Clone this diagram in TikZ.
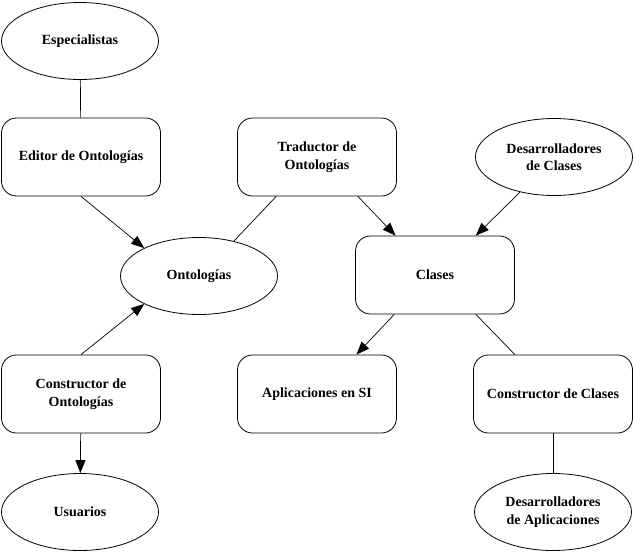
\documentclass[tikz,border=0pt]{standalone}
\usepackage{fontspec}
\setmainfont{Liberation Serif}
\usetikzlibrary{arrows.meta,positioning,shapes.geometric}

\begin{document}
\begin{tikzpicture}[x=1pt, y=-1pt,
    every node/.style={font=\bfseries\fontsize{14}{17.5}\selectfont, align=center},
    actor/.style={draw, ellipse, line width=0.8pt, minimum width=157pt, minimum height=77pt, inner sep=0pt},
    tool/.style={draw, rectangle, rounded corners=15pt, line width=0.8pt, minimum width=159pt, minimum height=78pt, inner sep=0pt},
    link/.style={line width=0.7pt},
    flow/.style={line width=0.7pt, -{Triangle[length=13pt, width=10pt]}}]
    \useasboundingbox (0,0) rectangle (633,552);
    % actors
    \node[actor] (espec) at (80,41) {Especialistas};
    \node[actor] (ontol) at (199,276) {Ontologías};
    \node[actor] (desclases) at (554,157) {Desarrolladores\\de Clases};
    \node[actor] (usuarios) at (80,512) {Usuarios};
    \node[actor] (desaplic) at (553,512) {Desarrolladores\\de Aplicaciones};
    % tools
    \node[tool] (editor) at (81,157) {Editor de Ontologías};
    \node[tool] (traductor) at (317,157) {Traductor de\\Ontologías};
    \node[tool] (clases) at (435,275) {Clases};
    \node[tool] (constont) at (81,394) {Constructor de\\Ontologías};
    \node[tool] (aplic) at (317,394) {Aplicaciones en SI};
    \node[tool] (constclases) at (553,394) {Constructor de Clases};
    % plain links
    \draw[link] (espec) -- (editor);
    \draw[link] (traductor.224) -- (ontol.45);
    \draw[link] (clases.-44) -- (constclases.134);
    \draw[link] (constclases) -- (desaplic);
    % arrows
    \draw[flow] (editor.south) -- (ontol.153);
    \draw[flow] (constont.north) -- (ontol.207);
    \draw[flow] (constont) -- (usuarios);
    \draw[flow] (traductor.-44) -- (clases.135);
    \draw[flow] (desclases.226) -- (clases.44);
    \draw[flow] (clases.224) -- (aplic.45);
\end{tikzpicture}
\end{document}
